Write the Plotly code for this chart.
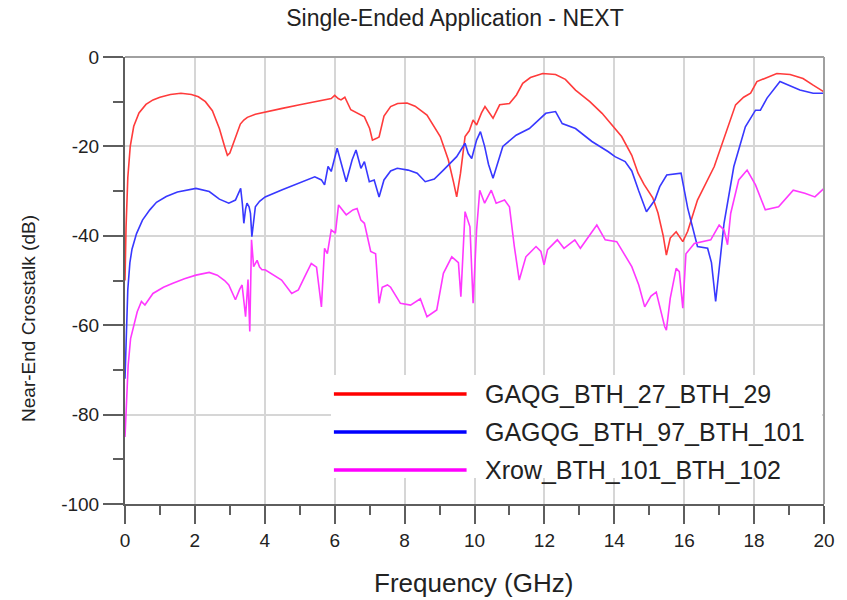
import plotly.graph_objects as go

# Near-end crosstalk vs frequency for three pin pairs
series_names = ["GAQG_BTH_27_BTH_29", "GAGQG_BTH_97_BTH_101", "Xrow_BTH_101_BTH_102"]
series_colors = ["#ff3b3b", "#3838ff", "#ff38ff"]
legend_colors = ["#ff0000", "#0000ff", "#ff00ff"]

freq_red = [0, 0.03, 0.08, 0.15, 0.25, 0.4, 0.6, 0.8, 1.0, 1.3, 1.6, 1.9, 2.1, 2.3, 2.5, 2.7,
            2.85, 2.93, 3.0, 3.15, 3.3, 3.4, 3.5, 3.73, 4.0, 4.5, 5.0, 5.5, 5.9, 6.0, 6.1, 6.18,
            6.29, 6.46, 6.7, 6.85, 7.0, 7.08, 7.2, 7.27, 7.41, 7.6, 7.8, 8.07, 8.3, 8.64, 9.02,
            9.25, 9.4, 9.49, 9.6, 9.73, 9.85, 9.96, 10.06, 10.2, 10.3, 10.42, 10.53, 10.72, 11.0,
            11.2, 11.38, 11.6, 11.95, 12.32, 12.6, 12.89, 13.3, 13.65, 14.0, 14.21, 14.5, 14.68,
            14.85, 14.97, 15.1, 15.25, 15.4, 15.49, 15.6, 15.77, 15.9, 15.96, 16.1, 16.38, 16.86,
            17.2, 17.47, 17.7, 17.9, 18.08, 18.4, 18.65, 19.03, 19.4, 19.69, 20.0]
next_red = [-50, -38, -27, -20, -15.5, -12.5, -10.6, -9.6, -9.0, -8.4, -8.1, -8.4, -8.9, -10, -12, -16,
            -20, -22, -21.5, -18, -15, -14.1, -13.5, -12.8, -12.3, -11.5, -10.7, -10, -9.3, -8.6, -9.3, -9.6,
            -9.0, -11.8, -12.8, -13.4, -16, -18.6, -18.2, -17.9, -13.2, -11.1, -10.4, -10.3, -11, -13, -17.8,
            -23, -28, -31.3, -26, -17.8, -16.5, -14.1, -15.2, -12.5, -11.1, -12.5, -13.7, -10.7, -10.4,
            -8.5, -5.9, -4.6, -3.7, -3.9, -5, -7.4, -10, -12.6, -15.8, -17.8, -22, -26,
            -28.5, -29.8, -31.5, -34.9, -40, -44.3, -40.5, -39.1, -40.5, -41.3, -39, -32, -24.5,
            -17, -10.7, -9, -8.1, -5.5, -4.5, -3.7, -3.9, -4.8, -6.3, -7.8]

freq_blue = [0, 0.03, 0.08, 0.14, 0.2, 0.33, 0.5, 0.71, 0.9, 1.18, 1.5, 2.03, 2.41, 2.7, 2.97, 3.16,
             3.25, 3.31, 3.36, 3.4, 3.45, 3.49, 3.55, 3.59, 3.63, 3.68, 3.73, 3.85, 4.01, 4.5, 4.96,
             5.43, 5.62, 5.71, 5.81, 5.9, 6.07, 6.2, 6.33, 6.5, 6.61, 6.75, 6.85, 6.99, 7.13, 7.27,
             7.41, 7.6, 7.79, 8.1, 8.36, 8.59, 8.85, 9.11, 9.49, 9.73, 9.82, 9.92, 10.06, 10.17,
             10.29, 10.4, 10.53, 10.81, 11.19, 11.57, 11.8, 12.04, 12.32, 12.51, 12.89, 13.36, 13.83,
             14.02, 14.31, 14.5, 14.7, 14.92, 15.16, 15.3, 15.5, 15.91, 16.1, 16.38, 16.67, 16.78,
             16.9, 17.14, 17.42, 17.75, 18.04, 18.18, 18.37, 18.74, 19.31, 19.69, 20.0]
next_blue = [-72, -62, -52, -46, -43, -39.5, -36.5, -34.2, -32.5, -31.2, -30.2, -29.4, -30.1, -31.8, -32.7, -32,
             -30.5, -29.4, -33, -37.2, -34, -32.7, -33.5, -35, -40.2, -36, -33.5, -32.3, -31.3, -29.7, -28.3,
             -26.8, -27.5, -28.6, -24.5, -25.6, -20.4, -24, -27.9, -23, -20.8, -24.9, -23.4, -27.9, -27.5, -31.3,
             -27.5, -25.5, -24.9, -25.3, -26, -27.9, -27.3, -25.3, -22.3, -19.3, -21.6, -22.7, -18.6, -16.7,
             -20, -24, -27.1, -20, -17.5, -16, -14.3, -12.6, -12.2, -14.9, -16, -18.9, -21.2,
             -22.3, -23.4, -25.5, -30, -34.6, -32, -29, -26.4, -26, -33.8, -42.4, -42.8, -46,
             -54.7, -37.2, -24.5, -15.6, -11.9, -11.9, -9.2, -5.5, -7.4, -8.1, -8.1]

freq_mag = [0, 0.03, 0.09, 0.16, 0.24, 0.35, 0.47, 0.57, 0.8, 1.1, 1.37, 1.7, 2.03, 2.41, 2.64, 2.85,
            2.97, 3.08, 3.16, 3.28, 3.35, 3.45, 3.52, 3.57, 3.62, 3.68, 3.78, 3.85, 3.92, 4.01, 4.48,
            4.77, 4.96, 5.15, 5.33, 5.48, 5.62, 5.71, 5.79, 5.9, 6.02, 6.11, 6.33, 6.52, 6.64, 6.75,
            6.85, 7.03, 7.17, 7.27, 7.36, 7.51, 7.6, 7.88, 8.17, 8.45, 8.64, 8.92, 9.11, 9.35, 9.54,
            9.61, 9.73, 9.87, 9.96, 10.06, 10.15, 10.29, 10.48, 10.62, 10.86, 11.0, 11.14, 11.28,
            11.47, 11.76, 11.9, 11.99, 12.09, 12.37, 12.56, 12.87, 13.03, 13.5, 13.74, 14.07, 14.5,
            14.7, 14.87, 15.05, 15.2, 15.44, 15.49, 15.6, 15.77, 15.86, 15.96, 16.05, 16.29, 16.76,
            17.0, 17.14, 17.24, 17.33, 17.56, 17.8, 18.04, 18.32, 18.7, 19.12, 19.45, 19.74, 20.0]
next_mag = [-85, -78, -69, -63, -60.3, -57, -54.7, -55.5, -52.9, -51.5, -50.6, -49.6, -48.8, -48.2, -48.8, -50,
            -51, -53, -54.3, -52, -51, -58.1, -49.8, -61.4, -40.9, -46.9, -45.5, -47, -47.6, -47.6, -49.9,
            -52.9, -52.1, -49, -46.2, -47, -55.9, -42.8, -44, -38.7, -39.4, -33.1, -35.3, -34.2, -33.9, -36.5,
            -37.2, -43.5, -44, -55.1, -51.5, -51, -51.5, -55.1, -55.5, -54.1, -58.1, -56.6, -48.4, -44.7, -46,
            -53.6, -34.6, -38, -55.1, -38.7, -29.8, -32.7, -29.8, -32.7, -32, -33.5, -42.4, -49.9,
            -44.7, -42.4, -43.5, -46.5, -43.1, -40.9, -42.8, -40.9, -42.8, -37.6, -40.9, -41.3, -46.9,
            -51, -55.9, -53.5, -52.6, -60.3, -61.1, -54, -47.3, -48, -56.2, -44, -41.7, -40.9,
            -37.6, -38.7, -42, -35, -27.5, -25.3, -28.6, -34.2, -33.5, -29.8, -30.5, -31.3, -29.4]

x_ticks = [0, 2, 4, 6, 8, 10, 12, 14, 16, 18, 20]
y_ticks = [0, -20, -40, -60, -80, -100]

FONT = "Liberation Sans, Arial, sans-serif"
AXIS_DARK = "#5e5e5e"
BORDER = "#a0a0a0"
GRID = "#d6d6d6"
TEXT = "#222222"

MARGIN = dict(l=125, r=16, t=57, b=96)
W, H = 847, 600

fig = go.Figure()
for name, fx, fy, col in [
    (series_names[0], freq_red, next_red, series_colors[0]),
    (series_names[1], freq_blue, next_blue, series_colors[1]),
    (series_names[2], freq_mag, next_mag, series_colors[2]),
]:
    fig.add_trace(go.Scatter(x=fx, y=fy, mode="lines", name=name, showlegend=False,
                             line=dict(color=col, width=1.6)))

fig.update_layout(
    width=W, height=H,
    margin=MARGIN,
    paper_bgcolor="white", plot_bgcolor="white",
    font=dict(family=FONT, color=TEXT),
    title=dict(text="Single-Ended Application - NEXT", x=455 / W, xanchor="center",
               y=1 - 18 / H, yanchor="middle", font=dict(size=23, color=TEXT)),
)

fig.update_xaxes(
    range=[0, 20], tickvals=x_ticks, ticktext=[str(v) for v in x_ticks],
    showline=True, linecolor=AXIS_DARK, linewidth=2,
    ticks="outside", ticklen=18, tickwidth=2, tickcolor=AXIS_DARK,
    showgrid=True, gridcolor=GRID, gridwidth=2, zeroline=False,
    tickfont=dict(size=19, color=TEXT),
    minor=dict(dtick=1, tick0=0, ticks="outside", ticklen=9, tickwidth=2,
               tickcolor=AXIS_DARK, showgrid=False),
)
fig.update_yaxes(
    range=[-100, 0], tickvals=y_ticks, ticktext=[str(v) for v in y_ticks],
    showline=True, linecolor=AXIS_DARK, linewidth=2,
    ticks="outside", ticklen=20, tickwidth=2, tickcolor=AXIS_DARK,
    showgrid=True, gridcolor=GRID, gridwidth=2, zeroline=False,
    tickfont=dict(size=19, color=TEXT),
    minor=dict(dtick=10, tick0=0, ticks="outside", ticklen=10, tickwidth=2,
               tickcolor=AXIS_DARK, showgrid=False),
)

# top and right frame edges
fig.add_shape(type="line", xref="paper", yref="paper", x0=0, x1=1, y0=1, y1=1,
              line=dict(color=BORDER, width=2), layer="above")
fig.add_shape(type="line", xref="paper", yref="paper", x0=1, x1=1, y0=0, y1=1,
              line=dict(color=BORDER, width=2), layer="above")

# pixel -> paper helpers for the decorations
PW = W - MARGIN["l"] - MARGIN["r"]
PH = H - MARGIN["t"] - MARGIN["b"]


def px_x(p):
    return (p - MARGIN["l"]) / PW


def px_y(p):
    return (H - MARGIN["b"] - p) / PH


# axis titles
fig.add_annotation(text="Frequency (GHz)", xref="paper", yref="paper", x=px_x(477), y=px_y(583),
                   xanchor="center", yanchor="middle", showarrow=False,
                   font=dict(size=26, color=TEXT))
fig.add_annotation(text="Near-End Crosstalk (dB)", xref="paper", yref="paper", x=px_x(28), y=px_y(318),
                   xanchor="center", yanchor="middle", textangle=-90, showarrow=False,
                   font=dict(size=19, color=TEXT))

# legend panel
fig.add_shape(type="rect", xref="paper", yref="paper", x0=px_x(333), x1=px_x(829),
              y0=px_y(478), y1=px_y(375), fillcolor="white", line=dict(width=0), layer="above")
row_px = [394, 432, 470]
for name, col, rp in zip(series_names, legend_colors, row_px):
    fig.add_shape(type="line", xref="paper", yref="paper", x0=px_x(336), x1=px_x(470),
                  y0=px_y(rp), y1=px_y(rp), line=dict(color=col, width=3.5), layer="above")
    fig.add_annotation(text=name, xref="paper", yref="paper", x=px_x(487), y=px_y(rp),
                       xanchor="left", yanchor="middle", showarrow=False,
                       font=dict(size=25, color=TEXT))

fig.write_html("out.html")
